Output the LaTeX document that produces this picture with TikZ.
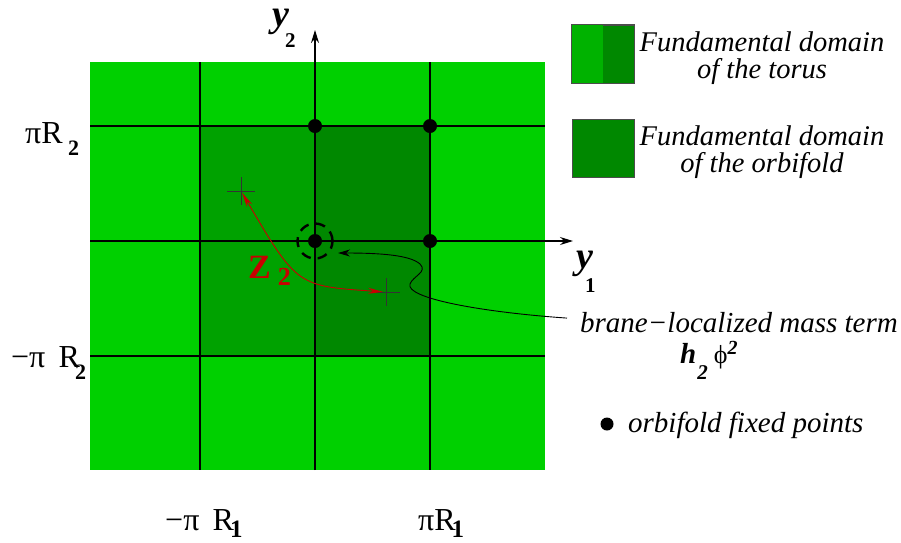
\documentclass[tikz,border=0pt]{standalone}
\usepackage{fontspec}
\setmainfont{Liberation Serif}
\usetikzlibrary{arrows.meta, positioning}

\definecolor{coverGreen}{RGB}{0,208,0}
\definecolor{torusGreen}{RGB}{0,162,0}
\definecolor{torusKeyGreen}{RGB}{0,178,0}
\definecolor{orbGreen}{RGB}{0,136,0}
\definecolor{zRed}{RGB}{200,0,0}

% lowered (or raised) index: size, drop, text
\newcommand{\lowsub}[3]{\raisebox{-#2pt}{\fontsize{#1}{#1}\selectfont #3}}

\begin{document}
\begin{tikzpicture}[x=1pt, y=-1pt,
    gridline/.style={line width=1.3pt},
    fixpt/.style={circle, fill=black, inner sep=0pt, minimum size=14pt},
    keybox/.style={rectangle, draw=black!70, line width=0.8pt, minimum width=62pt, minimum height=58pt, inner sep=0pt},
    keytext/.style={align=center, font=\fontsize{28.5}{27}\selectfont\itshape},
    axislabel/.style={anchor=base west, inner sep=0pt, font=\fontsize{38}{38}\selectfont\bfseries\itshape},
    ticklabel/.style={anchor=base west, inner sep=0pt, font=\fontsize{32}{32}\selectfont},
    axisarrow/.style={-{Stealth[length=13pt, width=8pt]}}]
  \useasboundingbox (0,0) rectangle (901,542);

  % Covering plane and fundamental domains
  \fill[coverGreen] (90,62) rectangle (545,470);
  \fill[torusGreen] (200,126) rectangle (315,356);
  \fill[orbGreen] (315,126) rectangle (430,356);

  % Grid
  \foreach \x in {200,430}
    \draw[gridline] (\x,62) -- (\x,470);
  \foreach \y in {126,356}
    \draw[gridline] (90,\y) -- (545,\y);

  % Axes
  \coordinate (y2from) at (315,470);
  \coordinate (y2to) at (315,30);
  \coordinate (y1from) at (90,241);
  \coordinate (y1to) at (573,241);
  \draw[gridline, axisarrow] (y2from) -- (y2to);
  \draw[gridline, axisarrow] (y1from) -- (y1to);

  % Axis labels
  \node[axislabel] (y2lbl) at (272,26) {y\kern-4pt\lowsub{21}{21}{\upshape 2}};
  \node[axislabel] (y1lbl) at (576,268) {y\kern-8pt\lowsub{21}{24}{\upshape 1}};

  % Tick labels
  \node[ticklabel] (piR2) at (25,143) {πR\,\lowsub{22}{12}{\bfseries 2}};
  \node[ticklabel] (mpiR2) at (11,367) {−π\, R\kern-5pt\lowsub{22}{12}{\bfseries 2}};
  \node[ticklabel] (mpiR1) at (165,530) {−π\, R\kern-4pt\lowsub{25}{7}{\bfseries 1}};
  \node[ticklabel] (piR1) at (418,530) {πR\kern-4pt\lowsub{25}{7}{\bfseries 1}};

  % Orbifold fixed points
  \node[fixpt] (fpA) at (315,126) {};
  \node[fixpt] (fpB) at (430,126) {};
  \node[fixpt] (fpC) at (315,241) {};
  \node[fixpt] (fpD) at (430,241) {};

  % Brane at the origin
  \node[circle, draw, line width=2.4pt, dash pattern=on 10pt off 7pt, minimum size=35pt, inner sep=0pt] (ring) at (315,241) {};

  % Z2 image points
  \coordinate (imgA) at (241,191);
  \coordinate (imgB) at (386,292);
  \draw[line width=0.8pt, black!80] (imgA) +(-14,0) -- +(14,0) (imgA) +(0,-14) -- +(0,14);
  \draw[line width=0.8pt, black!80] (imgB) +(-14,0) -- +(14,0) (imgB) +(0,-14) -- +(0,14);
  \draw[zRed, line width=0.9pt, {Stealth[length=15pt, width=6pt]}-{Stealth[length=15pt, width=6pt]},
        shorten <=2pt, shorten >=3pt] (imgA) .. controls (297,286) .. (imgB);
  \node[anchor=base west, inner sep=0pt, text=zRed, font=\fontsize{34}{34}\selectfont\bfseries] (z2lbl) at (248,278)
    {Z\kern7pt\lowsub{26}{7}{2}};

  % Legend
  \node[keybox, fill=orbGreen] (torusKey) at (603,54) {};
  \fill[torusKeyGreen] (torusKey.south west) rectangle ([xshift=-31pt]torusKey.north east);
  \draw[draw=black!70, line width=0.8pt] (torusKey.south west) rectangle (torusKey.north east);
  \node[keybox, fill=orbGreen] (orbKey) at (603,148) {};
  \node[keytext, anchor=north] (torusTxt) at (762,28) {Fundamental domain\\of the torus};
  \node[keytext, anchor=north] (orbTxt) at (762,122) {Fundamental domain\\of the orbifold};

  % Brane-localized mass term
  \node[anchor=base west, inner sep=0pt, font=\fontsize{29}{29}\selectfont\itshape] (brane) at (580,332) {brane−localized mass term};
  \node[anchor=base west, inner sep=0pt, font=\fontsize{29}{29}\selectfont] (mass) at (680,363)
    {\textbf{\textit{h}}\kern1pt\lowsub{21}{16}{\bfseries\itshape 2}\kern6pt{\fontsize{26}{26}\selectfont ϕ}\kern0pt\lowsub{20}{-9}{\bfseries\itshape 2}};
  \coordinate (tipPt) at (338,253);
  \draw[line width=0.9pt, -{Stealth[length=12pt, width=7pt]}] ([xshift=-13pt, yshift=4pt]brane.west)
    .. controls (480,312) and (405,298) .. (410,284)
    .. controls (413,276) and (428,272) .. (420,264)
    .. controls (410,255) and (380,253) .. (tipPt);

  % Fixed point key
  \node[fixpt, minimum size=13pt] (fpKey) at (607,424) {};
  \node[anchor=base west, inner sep=0pt, font=\fontsize{29}{29}\selectfont\itshape] (fpTxt) at (628,432) {orbifold fixed points};
\end{tikzpicture}
\end{document}
